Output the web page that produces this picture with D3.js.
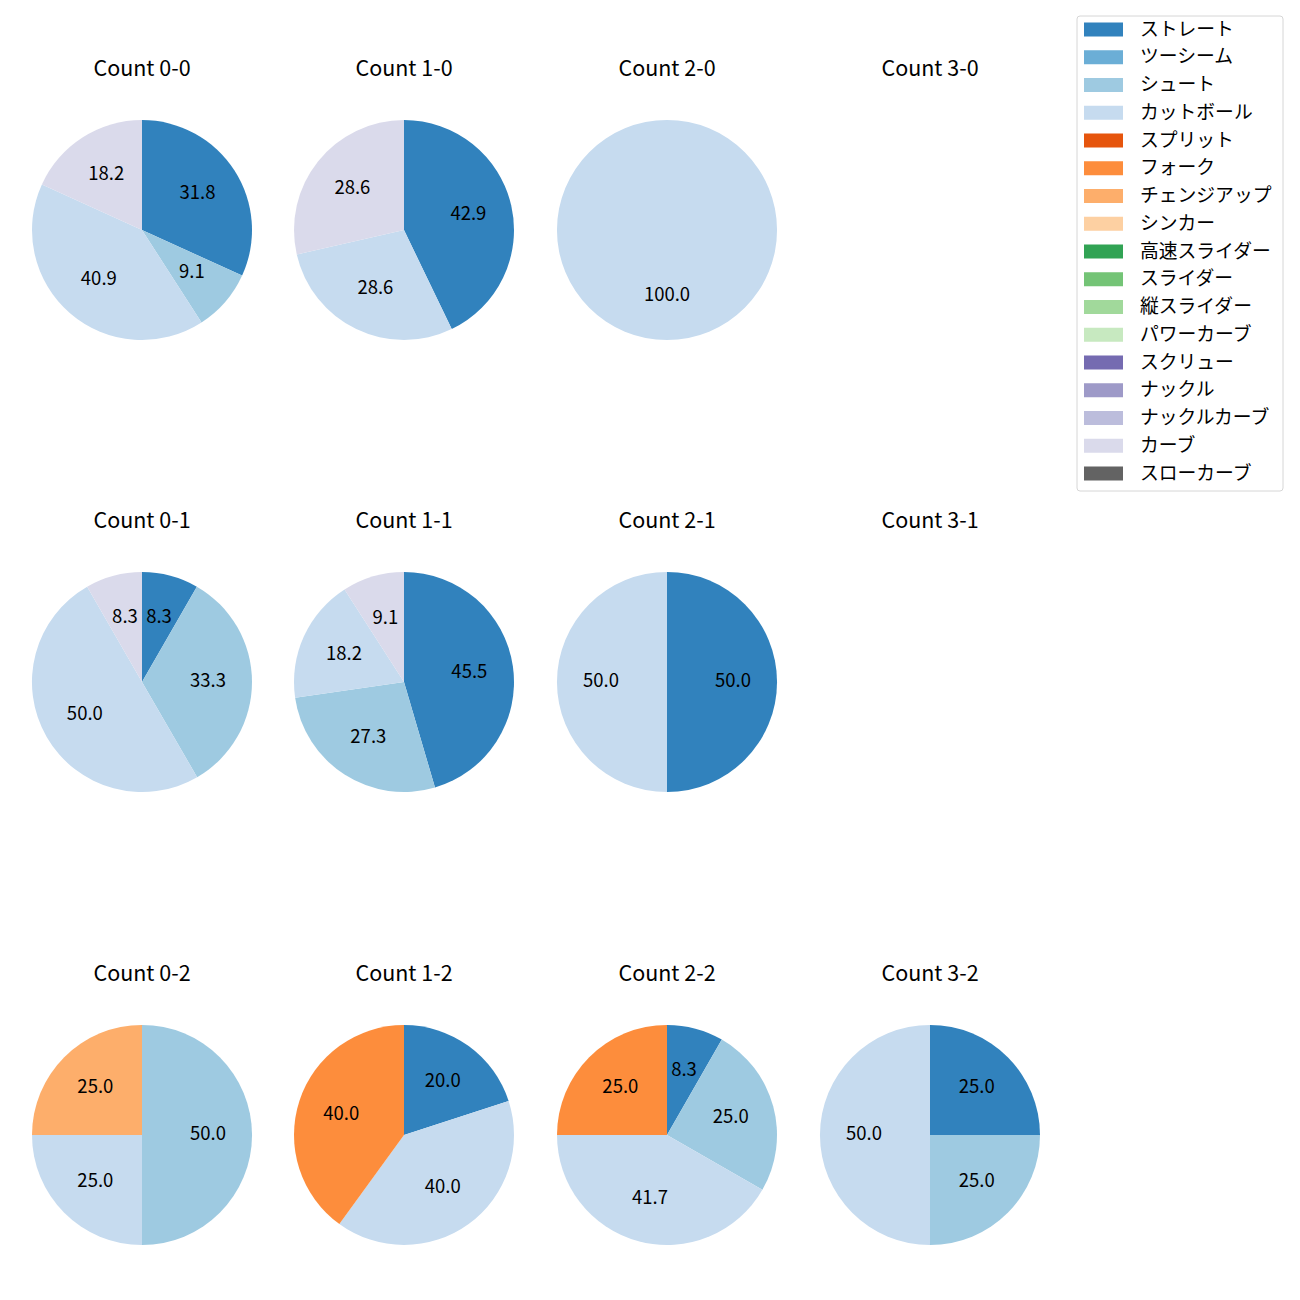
<!DOCTYPE html>
<html>
<head>
<meta charset="utf-8">
<script src="https://cdn.jsdelivr.net/npm/d3@7"></script>
<style>
  body { margin: 0; background: #fff; }
  text { font-family: "Noto Sans CJK JP", "Noto Sans", sans-serif; fill: #000; }
</style>
</head>
<body>
<svg id="chart" width="1300" height="1300"></svg>
<script>
// pitch types, legend order
const pitchTypes = ["ストレート", "ツーシーム", "シュート", "カットボール", "スプリット", "フォーク",
  "チェンジアップ", "シンカー", "高速スライダー", "スライダー", "縦スライダー", "パワーカーブ",
  "スクリュー", "ナックル", "ナックルカーブ", "カーブ", "スローカーブ"];
const pitchColors = ["#3182bd", "#6baed6", "#9ecae1", "#c6dbef", "#e6550d", "#fd8d3c",
  "#fdae6b", "#fdd0a2", "#31a354", "#74c476", "#a1d99b", "#c7e9c0",
  "#756bb1", "#9e9ac8", "#bcbddc", "#dadaeb", "#636363"];

// counts (balls-strikes), grid order
const countLabels = ["0-0", "1-0", "2-0", "3-0", "0-1", "1-1", "2-1", "3-1", "0-2", "1-2", "2-2", "3-2"];

// share (%) per pitch type for each count
const count00 = [["ストレート", 31.8], ["シュート", 9.1], ["カットボール", 40.9], ["カーブ", 18.2]];
const count10 = [["ストレート", 42.9], ["カットボール", 28.6], ["カーブ", 28.6]];
const count20 = [["カットボール", 100.0]];
const count30 = [];
const count01 = [["ストレート", 8.3], ["シュート", 33.3], ["カットボール", 50.0], ["カーブ", 8.3]];
const count11 = [["ストレート", 45.5], ["シュート", 27.3], ["カットボール", 18.2], ["カーブ", 9.1]];
const count21 = [["ストレート", 50.0], ["カットボール", 50.0]];
const count31 = [];
const count02 = [["シュート", 50.0], ["カットボール", 25.0], ["チェンジアップ", 25.0]];
const count12 = [["ストレート", 20.0], ["カットボール", 40.0], ["フォーク", 40.0]];
const count22 = [["ストレート", 8.3], ["シュート", 25.0], ["カットボール", 41.7], ["フォーク", 25.0]];
const count32 = [["ストレート", 25.0], ["シュート", 25.0], ["カットボール", 50.0]];

const countData = [count00, count10, count20, count30, count01, count11, count21, count31,
  count02, count12, count22, count32];

const svg = d3.select("#chart");

const colX = [142, 404, 667, 930];
const rowY = [230, 682, 1135];
const radius = 110;

const color = d3.scaleOrdinal().domain(pitchTypes).range(pitchColors);

const pie = d3.pie().sort(null).value(d => d[1]);
const arc = d3.arc().innerRadius(0).outerRadius(radius);
const labelArc = d3.arc().innerRadius(radius * 0.6).outerRadius(radius * 0.6);

countData.forEach((data, i) => {
  const cx = colX[i % 4];
  const cy = rowY[Math.floor(i / 4)];

  const g = svg.append("g")
    .attr("class", "pie")
    .attr("transform", `translate(${cx}, ${cy})`);

  g.append("text")
    .attr("class", "title")
    .attr("x", 0)
    .attr("y", -160)
    .attr("text-anchor", "middle")
    .attr("dominant-baseline", "middle")
    .style("font-size", "21.5px")
    .text("Count " + countLabels[i]);

  const slices = pie(data);

  g.selectAll("path")
    .data(slices)
    .enter()
    .append("path")
    .attr("d", arc)
    .attr("fill", d => color(d.data[0]));

  g.selectAll("text.pct")
    .data(slices)
    .enter()
    .append("text")
    .attr("class", "pct")
    .attr("transform", d => `translate(${labelArc.centroid(d)})`)
    .attr("text-anchor", "middle")
    .attr("dominant-baseline", "middle")
    .style("font-size", "18.5px")
    .text(d => d3.format(".1f")(d.data[1]));
});

// legend
const legend = svg.append("g").attr("transform", "translate(1077, 16)");
legend.append("rect")
  .attr("width", 206)
  .attr("height", 475)
  .attr("rx", 3)
  .attr("fill", "#fff")
  .attr("stroke", "#d6d6d6");

pitchTypes.forEach((name, i) => {
  const y = 13.5 + i * 27.75;
  legend.append("rect")
    .attr("x", 7)
    .attr("y", y - 7)
    .attr("width", 39)
    .attr("height", 14)
    .attr("fill", color(name));
  legend.append("text")
    .attr("x", 63)
    .attr("y", y + 1)
    .attr("dominant-baseline", "middle")
    .style("font-size", "18.8px")
    .text(name);
});
</script>
</body>
</html>
